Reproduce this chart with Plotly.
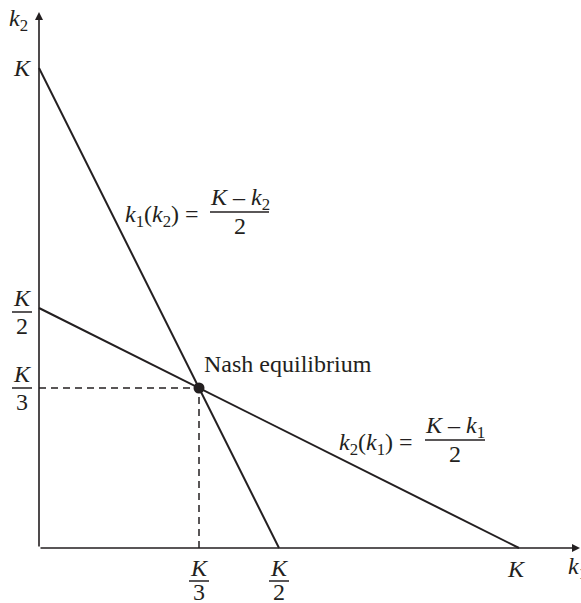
import plotly.graph_objects as go

# Capacity of the game, normalised to 1
K = 1.0

# Best-response lines (endpoints on the axes)
br1_k1 = [0.0, K / 2]   # k1(k2) = (K - k2)/2
br1_k2 = [K, 0.0]
br2_k1 = [0.0, K]       # k2(k1) = (K - k1)/2
br2_k2 = [K / 2, 0.0]

# Nash equilibrium
nash_k1 = [K / 3]
nash_k2 = [K / 3]

# Axis tick labels (numerator, denominator); denominator None = plain label
x_ticks = [K / 3, K / 2, K]
x_tick_labels = [("K", "3"), ("K", "2"), ("K", None)]
y_ticks = [K / 3, K / 2, K]
y_tick_labels = [("K", "3"), ("K", "2"), ("K", None)]

W, H = 581, 603
PX_PER_UNIT = 480.0
ORIGIN_PX = (39, 548)

INK = "#231f20"
FONT = "Liberation Serif"
FS = 24


def px(xp, yp):
    """Pixel position in the page -> data coordinates."""
    return (xp - ORIGIN_PX[0]) / PX_PER_UNIT, (ORIGIN_PX[1] - yp) / PX_PER_UNIT


fig = go.Figure()

line_style = dict(color=INK, width=2)
fig.add_trace(go.Scatter(x=br1_k1, y=br1_k2, mode="lines", line=line_style,
                         hoverinfo="skip", showlegend=False))
fig.add_trace(go.Scatter(x=br2_k1, y=br2_k2, mode="lines", line=line_style,
                         hoverinfo="skip", showlegend=False))

# Dashed guides to the equilibrium
dash_style = dict(color=INK, width=1.5, dash="7px,5px")
fig.add_trace(go.Scatter(x=[0, nash_k1[0]], y=[nash_k2[0], nash_k2[0]], mode="lines",
                         line=dash_style, hoverinfo="skip", showlegend=False))
fig.add_trace(go.Scatter(x=[nash_k1[0], nash_k1[0]], y=[0, nash_k2[0]], mode="lines",
                         line=dash_style, hoverinfo="skip", showlegend=False))

fig.add_trace(go.Scatter(x=nash_k1, y=nash_k2, mode="markers",
                         marker=dict(color=INK, size=11),
                         hoverinfo="skip", showlegend=False))

annotations = []
shapes = []

# Axes with arrowheads
x_end, _ = px(580, 0)
_, y_end = px(0, 12)
for (tx, ty) in [(x_end, 0), (0, y_end)]:
    annotations.append(dict(x=tx, y=ty, ax=0, ay=0, xref="x", yref="y",
                            axref="x", ayref="y", text="", showarrow=True,
                            arrowhead=2, arrowsize=1.0, arrowwidth=1.6,
                            arrowcolor=INK, standoff=0))

text_font = dict(family=FONT, size=FS, color=INK)


def fraction(xd, yd, num, den, up=14, down=14, bar_half=10):
    """Stacked fraction centred on data point (xd, yd), bar at that point."""
    annotations.append(dict(x=xd, y=yd, xref="x", yref="y", text=num,
                            showarrow=False, font=text_font, yshift=up,
                            xanchor="center", yanchor="middle"))
    annotations.append(dict(x=xd, y=yd, xref="x", yref="y", text=den,
                            showarrow=False, font=text_font, yshift=-down,
                            xanchor="center", yanchor="middle"))
    shapes.append(dict(type="line", xref="x", yref="y",
                       xsizemode="pixel", ysizemode="pixel",
                       xanchor=xd, yanchor=yd,
                       x0=-bar_half, x1=bar_half, y0=0, y1=0,
                       line=dict(color=INK, width=1.5)))


# x-axis tick labels
for v, (num, den) in zip(x_ticks, x_tick_labels):
    if den is None:
        annotations.append(dict(x=v, y=0, xref="x", yref="y", text="<i>%s</i>" % num,
                                showarrow=False, font=text_font, yshift=-21,
                                xshift=-3, xanchor="center", yanchor="middle"))
    else:
        _, yd = px(0, 581)
        fraction(v, yd, "<i>%s</i>" % num, den, up=13, down=11)

# y-axis tick labels
for v, (num, den) in zip(y_ticks, y_tick_labels):
    xd, _ = px(22, 0)
    if den is None:
        annotations.append(dict(x=xd, y=v, xref="x", yref="y", text="<i>%s</i>" % num,
                                showarrow=False, font=text_font,
                                xanchor="center", yanchor="middle"))
    else:
        fraction(xd, v - 4 / PX_PER_UNIT if v == K / 2 else v, "<i>%s</i>" % num, den)

# Axis titles
ax_, ay_ = px(18, 20)
annotations.append(dict(x=ax_, y=ay_, xref="x", yref="y", text="<i>k</i><sub>2</sub>",
                        showarrow=False, font=text_font, xanchor="center", yanchor="middle"))
ax_, ay_ = px(566, 568)
annotations.append(dict(x=ax_, y=ay_, xref="x", yref="y", text="<i>k</i><sub>1</sub>",
                        showarrow=False, font=text_font, xanchor="left", yanchor="middle"))


# Best-response equations
def equation(lhs, num, left_px, eq_y_px, bar_x0_px, bar_x1_px):
    lx, ly = px(left_px, eq_y_px + 4)
    annotations.append(dict(x=lx, y=ly, xref="x", yref="y", text=lhs,
                            showarrow=False, font=text_font,
                            xanchor="right", yanchor="middle"))
    bx0, by = px(bar_x0_px, eq_y_px)
    bx1, _ = px(bar_x1_px, eq_y_px)
    cx = (bx0 + bx1) / 2
    annotations.append(dict(x=cx, y=by, xref="x", yref="y", text=num,
                            showarrow=False, font=text_font, yshift=13,
                            xanchor="center", yanchor="middle"))
    annotations.append(dict(x=cx, y=by, xref="x", yref="y", text="2",
                            showarrow=False, font=text_font, yshift=-14,
                            xanchor="center", yanchor="middle"))
    shapes.append(dict(type="line", xref="x", yref="y", x0=bx0, x1=bx1, y0=by, y1=by,
                       line=dict(color=INK, width=1.5)))


equation("<i>k</i><sub>1</sub>(<i>k</i><sub>2</sub>) =",
         "<i>K</i> – <i>k</i><sub>2</sub>", 201, 212, 210, 269)
equation("<i>k</i><sub>2</sub>(<i>k</i><sub>1</sub>) =",
         "<i>K</i> – <i>k</i><sub>1</sub>", 415, 440, 425, 485)

# Equilibrium label
lx, ly = px(202, 364)
annotations.append(dict(x=lx, y=ly, xref="x", yref="y", text="Nash equilibrium",
                        showarrow=False, font=text_font,
                        xanchor="left", yanchor="middle"))

x0, _ = px(0, 0)
x1, _ = px(W, 0)
_, y0 = px(0, H)
_, y1 = px(0, 0)

fig.update_layout(
    width=W, height=H, autosize=False,
    margin=dict(l=0, r=0, t=0, b=0, pad=0),
    paper_bgcolor="white", plot_bgcolor="white",
    xaxis=dict(range=[x0, x1], visible=False, fixedrange=True),
    yaxis=dict(range=[y0, y1], visible=False, fixedrange=True),
    annotations=annotations, shapes=shapes,
    showlegend=False,
)

fig.write_html("out.html", config={"displayModeBar": False})
